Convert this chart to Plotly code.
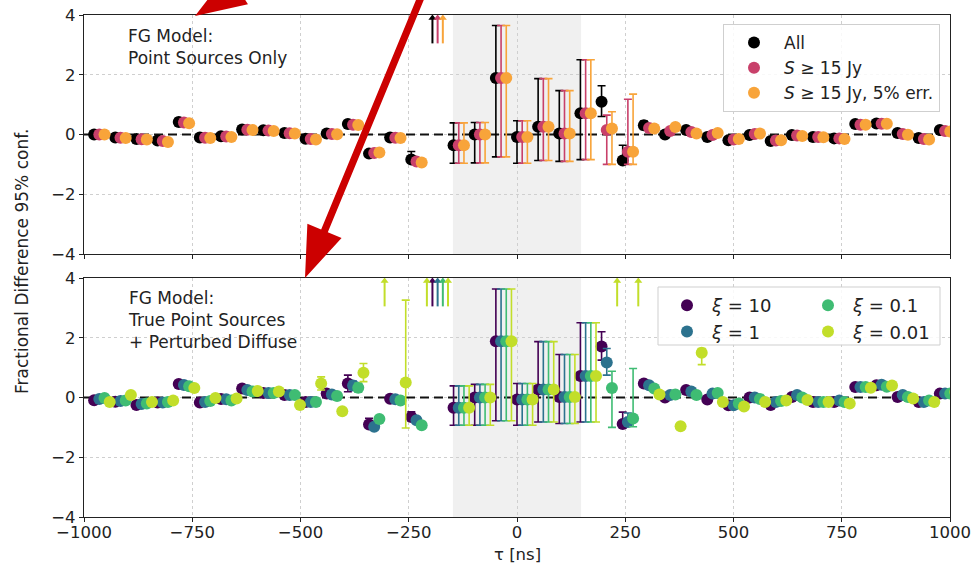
import numpy as np
import plotly.graph_objects as go

# ---------------- data ----------------
DELAY_NS = [-976.6, -927.7, -878.9, -830.1, -781.2, -732.4, -683.6, -634.8, -585.9, -537.1,
            -488.3, -439.5, -390.6, -341.8, -293.0, -244.1, -195.3, -146.5, -97.7, -48.8,
            0.0, 48.8, 97.7, 146.5, 195.3, 244.1, 293.0, 341.8, 390.6, 439.5,
            488.3, 537.1, 585.9, 634.8, 683.6, 732.4, 781.2, 830.1, 878.9, 927.7, 976.6]

# None = value above the plotted range (drawn as an upward arrow)
ALL_VAL = [0.00, -0.10, -0.15, -0.20, 0.42, -0.10, -0.06, 0.17, 0.14, 0.05,
           -0.14, 0.03, 0.35, -0.64, -0.10, -0.84, None, -0.36, 0.00, 1.89,
           -0.08, 0.26, 0.03, 0.71, 1.10, -0.87, 0.31, 0.00, 0.15, -0.08,
           -0.19, -0.02, -0.22, -0.02, -0.08, -0.13, 0.35, 0.37, 0.05, -0.12, 0.15]
ALL_PLUS = [0.08, 0.08, 0.08, 0.08, 0.12, 0.08, 0.08, 0.08, 0.08, 0.08,
            0.08, 0.08, 0.12, 0.08, 0.08, 0.27, 0.00, 0.75, 0.40, 1.76,
            0.54, 1.61, 1.44, 1.79, 0.53, 0.51, 0.14, 0.08, 0.08, 0.08,
            0.08, 0.08, 0.08, 0.08, 0.08, 0.08, 0.08, 0.08, 0.08, 0.08, 0.08]
ALL_MINUS = [0.08, 0.08, 0.08, 0.08, 0.12, 0.08, 0.08, 0.08, 0.08, 0.08,
             0.08, 0.08, 0.12, 0.08, 0.08, 0.08, 0.00, 0.60, 0.95, 2.64,
             0.88, 1.13, 0.93, 1.55, 0.50, 0.10, 0.14, 0.08, 0.08, 0.08,
             0.08, 0.08, 0.08, 0.08, 0.08, 0.08, 0.08, 0.08, 0.08, 0.08, 0.08]

BRIGHT_VAL = [0.00, -0.11, -0.16, -0.22, 0.40, -0.11, -0.07, 0.16, 0.13, 0.04,
              -0.15, 0.02, 0.33, -0.62, -0.11, -0.90, None, -0.36, 0.00, 1.89,
              -0.08, 0.26, 0.03, 0.71, 0.15, -0.58, 0.22, 0.12, 0.08, -0.02,
              -0.17, 0.02, -0.20, -0.03, -0.08, -0.13, 0.33, 0.36, 0.02, -0.15, 0.12]
BRIGHT_PLUS = [0.08, 0.08, 0.08, 0.08, 0.10, 0.08, 0.08, 0.08, 0.08, 0.08,
               0.08, 0.08, 0.10, 0.08, 0.08, 0.10, 0.00, 0.75, 0.40, 1.76,
               0.54, 1.61, 1.44, 1.79, 0.50, 1.76, 0.10, 0.08, 0.08, 0.08,
               0.08, 0.08, 0.08, 0.08, 0.08, 0.08, 0.08, 0.08, 0.08, 0.08, 0.08]
BRIGHT_MINUS = [0.08, 0.08, 0.08, 0.08, 0.10, 0.08, 0.08, 0.08, 0.08, 0.08,
                0.08, 0.08, 0.10, 0.08, 0.08, 0.08, 0.00, 0.60, 0.95, 2.64,
                0.88, 1.13, 0.93, 1.55, 1.15, 0.42, 0.10, 0.08, 0.08, 0.08,
                0.08, 0.08, 0.08, 0.08, 0.08, 0.08, 0.08, 0.08, 0.08, 0.08, 0.08]

BRIGHT5_VAL = [0.00, -0.12, -0.17, -0.25, 0.38, -0.12, -0.08, 0.15, 0.12, 0.03,
               -0.17, 0.01, 0.32, -0.60, -0.12, -0.94, None, -0.36, 0.00, 1.89,
               -0.08, 0.26, 0.03, 0.71, 0.20, -0.58, 0.20, 0.25, 0.03, 0.05,
               -0.15, 0.03, -0.19, -0.05, -0.09, -0.15, 0.33, 0.36, -0.01, -0.17, 0.10]
BRIGHT5_PLUS = [0.08, 0.08, 0.08, 0.08, 0.10, 0.08, 0.08, 0.08, 0.08, 0.08,
                0.08, 0.08, 0.10, 0.08, 0.08, 0.10, 0.00, 0.75, 0.40, 1.76,
                0.54, 1.61, 1.44, 1.79, 0.56, 1.93, 0.10, 0.08, 0.08, 0.08,
                0.08, 0.08, 0.08, 0.08, 0.08, 0.08, 0.08, 0.08, 0.08, 0.08, 0.08]
BRIGHT5_MINUS = [0.08, 0.08, 0.08, 0.08, 0.10, 0.08, 0.08, 0.08, 0.08, 0.08,
                 0.08, 0.08, 0.10, 0.08, 0.08, 0.08, 0.00, 0.60, 0.95, 2.64,
                 0.88, 1.13, 0.93, 1.55, 1.20, 0.42, 0.10, 0.08, 0.08, 0.08,
                 0.08, 0.08, 0.08, 0.08, 0.08, 0.08, 0.08, 0.08, 0.08, 0.08, 0.08]

XI10_VAL = [-0.09, -0.14, -0.25, -0.17, 0.45, -0.17, -0.05, 0.30, 0.15, 0.08,
            -0.15, 0.13, 0.47, -0.90, -0.04, -0.65, None, -0.34, 0.00, 1.88,
            -0.07, 0.27, 0.02, 0.72, 1.71, -0.89, 0.47, 0.00, 0.25, -0.07,
            -0.26, 0.00, -0.25, 0.02, -0.15, -0.15, 0.35, 0.41, 0.02, -0.15, 0.13]
XI10_PLUS = [0.08, 0.08, 0.08, 0.08, 0.10, 0.08, 0.08, 0.08, 0.08, 0.08,
             0.08, 0.12, 0.28, 0.20, 0.08, 0.17, 0.00, 0.73, 0.44, 1.75,
             0.54, 1.60, 1.42, 1.78, 0.49, 0.40, 0.12, 0.08, 0.08, 0.08,
             0.08, 0.08, 0.08, 0.08, 0.08, 0.08, 0.08, 0.08, 0.08, 0.08, 0.08]
XI10_MINUS = [0.08, 0.08, 0.08, 0.08, 0.10, 0.08, 0.08, 0.08, 0.08, 0.08,
              0.08, 0.12, 0.28, 0.08, 0.08, 0.08, 0.00, 0.59, 0.93, 2.66,
              0.86, 1.09, 0.89, 1.54, 0.46, 0.08, 0.12, 0.08, 0.08, 0.08,
              0.08, 0.08, 0.08, 0.08, 0.08, 0.08, 0.08, 0.08, 0.08, 0.08, 0.08]

XI1_VAL = [-0.05, -0.12, -0.22, -0.17, 0.42, -0.15, -0.06, 0.25, 0.15, 0.08,
           -0.15, 0.10, 0.40, -0.98, -0.06, -0.76, None, -0.34, 0.00, 1.88,
           -0.07, 0.27, 0.02, 0.72, 1.17, -0.82, 0.41, 0.08, 0.20, 0.13,
           -0.26, 0.00, -0.15, 0.08, -0.15, -0.10, 0.35, 0.43, 0.08, -0.15, 0.13]
XI1_PLUS = [0.08, 0.08, 0.08, 0.08, 0.08, 0.08, 0.08, 0.08, 0.08, 0.08,
            0.08, 0.08, 0.15, 0.08, 0.08, 0.08, 0.00, 0.73, 0.44, 1.75,
            0.54, 1.60, 1.42, 1.78, 0.47, 0.30, 0.08, 0.08, 0.08, 0.08,
            0.08, 0.08, 0.08, 0.08, 0.08, 0.08, 0.08, 0.08, 0.08, 0.08, 0.08]
XI1_MINUS = [0.08, 0.08, 0.08, 0.08, 0.08, 0.08, 0.08, 0.08, 0.08, 0.08,
             0.08, 0.08, 0.15, 0.08, 0.08, 0.08, 0.00, 0.59, 0.93, 2.66,
             0.86, 1.09, 0.89, 1.54, 0.42, 0.10, 0.08, 0.08, 0.08, 0.08,
             0.08, 0.08, 0.08, 0.08, 0.08, 0.08, 0.08, 0.08, 0.08, 0.08, 0.08]

XI01_VAL = [-0.02, -0.10, -0.20, -0.15, 0.38, -0.12, -0.10, 0.20, 0.15, 0.08,
            -0.15, 0.05, 0.33, -0.72, -0.10, -0.93, None, -0.34, 0.00, 1.88,
            -0.07, 0.27, 0.02, 0.72, 0.32, -0.70, 0.30, 0.10, 0.08, 0.15,
            -0.20, -0.05, -0.12, 0.00, -0.15, -0.15, 0.35, 0.36, 0.02, -0.10, 0.13]
XI01_PLUS = [0.08, 0.08, 0.08, 0.08, 0.08, 0.08, 0.08, 0.08, 0.08, 0.08,
             0.08, 0.08, 0.15, 0.08, 0.08, 0.08, 0.00, 0.73, 0.44, 1.75,
             0.54, 1.60, 1.42, 1.78, 0.56, 1.67, 0.08, 0.08, 0.08, 0.08,
             0.08, 0.08, 0.08, 0.08, 0.08, 0.08, 0.08, 0.08, 0.08, 0.08, 0.08]
XI01_MINUS = [0.08, 0.08, 0.08, 0.08, 0.08, 0.08, 0.08, 0.08, 0.08, 0.08,
              0.08, 0.08, 0.15, 0.08, 0.08, 0.08, 0.00, 0.59, 0.93, 2.66,
              0.86, 1.09, 0.89, 1.54, 1.32, 0.28, 0.08, 0.08, 0.08, 0.08,
              0.08, 0.08, 0.08, 0.08, 0.08, 0.08, 0.08, 0.08, 0.08, 0.08, 0.08]

XI001_VAL = [-0.15, 0.08, -0.15, -0.10, 0.32, -0.02, -0.03, 0.22, 0.20, -0.25,
             0.47, -0.46, 0.83, None, 0.50, None, None, -0.34, 0.00, 1.88,
             -0.07, 0.27, 0.02, 0.72, None, None, 0.10, -0.96, 1.50, -0.15,
             -0.30, -0.15, -0.10, -0.08, -0.15, -0.20, 0.33, 0.40, -0.03, -0.15, 0.18]
XI001_PLUS = [0.08, 0.08, 0.08, 0.08, 0.08, 0.08, 0.08, 0.08, 0.08, 0.08,
              0.22, 0.08, 0.31, 0.00, 2.76, 0.00, 0.00, 0.73, 0.44, 1.75,
              0.54, 1.60, 1.42, 1.78, 0.00, 0.00, 0.08, 0.08, 0.14, 0.08,
              0.08, 0.08, 0.08, 0.08, 0.08, 0.08, 0.08, 0.08, 0.08, 0.08, 0.08]
XI001_MINUS = [0.08, 0.08, 0.08, 0.08, 0.08, 0.08, 0.08, 0.08, 0.08, 0.08,
               0.22, 0.08, 0.30, 0.00, 1.52, 0.00, 0.00, 0.59, 0.93, 2.66,
               0.86, 1.09, 0.89, 1.54, 0.00, 0.00, 0.08, 0.08, 0.40, 0.08,
               0.08, 0.08, 0.08, 0.08, 0.08, 0.08, 0.08, 0.08, 0.08, 0.08, 0.08]

TOP_NAMES = ["All", "<i>S</i> ≥ 15 Jy", "<i>S</i> ≥ 15 Jy, 5% err."]
BOTTOM_NAMES = ["<i>ξ</i> = 10", "<i>ξ</i> = 1", "<i>ξ</i> = 0.1", "<i>ξ</i> = 0.01"]
WEDGE_HALF_WIDTH_NS = 148
X_RANGE = [-1000, 1000]
Y_RANGE = [-4, 4]
X_TICKS = [-1000, -750, -500, -250, 0, 250, 500, 750, 1000]
Y_TICKS = [-4, -2, 0, 2, 4]

# ---------------- style ----------------
TOP_COLORS = ["#000000", "#c8406a", "#f8a43a"]
BOTTOM_COLORS = ["#440154", "#2c728e", "#3fbc73", "#c2de2a"]
SERIES_SHIFT_NS = 12.0
ARROW_FROM = 3.05
ARROW_TIP = 3.9
FONT = "DejaVu Sans"
TXT = "#222222"
W, H = 976, 567
ML, MR, MT, MB = 84, 26, 15, 50

top_series = [(ALL_VAL, ALL_PLUS, ALL_MINUS), (BRIGHT_VAL, BRIGHT_PLUS, BRIGHT_MINUS),
              (BRIGHT5_VAL, BRIGHT5_PLUS, BRIGHT5_MINUS)]
bottom_series = [(XI10_VAL, XI10_PLUS, XI10_MINUS), (XI1_VAL, XI1_PLUS, XI1_MINUS),
                 (XI01_VAL, XI01_PLUS, XI01_MINUS), (XI001_VAL, XI001_PLUS, XI001_MINUS)]
for grp in top_series + bottom_series:
    for arr in grp:
        assert len(arr) == len(DELAY_NS)

fig = go.Figure()


def add_panel(series, names, colors, xa, ya, legends):
    # dashed zero reference line (drawn first so markers cover it)
    fig.add_trace(go.Scatter(x=X_RANGE, y=[0, 0], mode="lines", xaxis=xa, yaxis=ya,
                             line=dict(color="#111111", width=2, dash="9px,5px"),
                             showlegend=False, hoverinfo="skip"))
    for i, ((vals, plus, minus), name, col) in enumerate(zip(series, names, colors)):
        shift = i * SERIES_SHIFT_NS
        xs, ys, ep, em, ax_x = [], [], [], [], []
        for d, v, p, m in zip(DELAY_NS, vals, plus, minus):
            if v is None:
                ax_x.append(d + shift)
            else:
                xs.append(d + shift); ys.append(v); ep.append(p); em.append(m)
        fig.add_trace(go.Scatter(
            x=xs, y=ys, mode="markers", name=name, xaxis=xa, yaxis=ya,
            legend=legends[i], showlegend=True,
            marker=dict(size=12, color=col, line=dict(width=0)),
            error_y=dict(type="data", symmetric=False, array=ep, arrayminus=em,
                         color=col, thickness=1.6, width=4),
        ))
        if ax_x:
            lx, ly = [], []
            for x in ax_x:
                lx += [x, x, None]; ly += [ARROW_FROM, ARROW_TIP, None]
            fig.add_trace(go.Scatter(x=lx, y=ly, mode="lines", xaxis=xa, yaxis=ya,
                                     line=dict(color=col, width=2), showlegend=False,
                                     hoverinfo="skip"))
            fig.add_trace(go.Scatter(x=ax_x, y=[ARROW_TIP] * len(ax_x), mode="markers",
                                     xaxis=xa, yaxis=ya, showlegend=False, hoverinfo="skip",
                                     marker=dict(symbol="triangle-up", size=7, color=col,
                                                 line=dict(width=0))))


add_panel(top_series, TOP_NAMES, TOP_COLORS, "x", "y", ["legend"] * 3)
add_panel(bottom_series, BOTTOM_NAMES, BOTTOM_COLORS, "x2", "y2",
          ["legend2", "legend2", "legend3", "legend3"])

plot_w = W - ML - MR
plot_h = H - MT - MB


def px2paper(px, py):
    return (px - ML) / plot_w, (H - MB - py) / plot_h


top_dom = [px2paper(0, 254)[1], 1.0]
bot_dom = [0.0, px2paper(0, 278)[1]]

axis_common = dict(
    showline=True, linecolor="#222222", linewidth=1.3, mirror=True,
    ticks="outside", ticklen=4, tickwidth=1.2, tickcolor="#222222",
    showgrid=True, gridcolor="#cfcfcf", griddash="dot", gridwidth=1,
    zeroline=False, automargin=False, tickfont=dict(family=FONT, size=16.5, color=TXT),
)
xcommon = dict(range=X_RANGE, tickvals=X_TICKS, **axis_common)
ycommon = dict(range=Y_RANGE, tickvals=Y_TICKS, **axis_common)

fig.update_layout(
    width=W, height=H, margin=dict(l=ML, r=MR, t=MT, b=MB, autoexpand=False),
    paper_bgcolor="white", plot_bgcolor="white",
    font=dict(family=FONT, size=17, color=TXT),
    xaxis=dict(domain=[0, 1], anchor="y", showticklabels=False, matches="x2", **xcommon),
    yaxis=dict(domain=top_dom, anchor="x", **ycommon),
    xaxis2=dict(domain=[0, 1], anchor="y2", **xcommon),
    yaxis2=dict(domain=bot_dom, anchor="x2", **ycommon),
    legend=dict(x=px2paper(940, 0)[0], xanchor="right", y=px2paper(0, 24)[1], yanchor="top",
                bgcolor="rgba(255,255,255,0.85)", bordercolor="#cfcfcf", borderwidth=1,
                font=dict(family=FONT, size=17, color=TXT), itemwidth=50,
                tracegroupgap=0),
    legend2=dict(x=px2paper(662, 0)[0], xanchor="left", y=px2paper(0, 287)[1], yanchor="top",
                 bgcolor="rgba(0,0,0,0)", borderwidth=0, itemwidth=40,
                 font=dict(family=FONT, size=18, color=TXT)),
    legend3=dict(x=px2paper(803, 0)[0], xanchor="left", y=px2paper(0, 287)[1], yanchor="top",
                 bgcolor="rgba(0,0,0,0)", borderwidth=0, itemwidth=40,
                 font=dict(family=FONT, size=18, color=TXT)),
    showlegend=True,
)
try:
    fig.update_xaxes(ticklabelstandoff=-4, selector=dict(anchor="y2"))
except Exception:
    pass

shapes = []
for xr, yr in (("x", "y"), ("x2", "y2")):
    shapes.append(dict(type="rect", xref=xr, yref=yr + " domain", x0=-WEDGE_HALF_WIDTH_NS,
                       x1=WEDGE_HALF_WIDTH_NS, y0=0, y1=1, fillcolor="#f0f0f0",
                       line=dict(width=0), layer="below"))

# legend frame for the two-column lower legend
bx0, by0 = px2paper(658, 345)
bx1, by1 = px2paper(940, 287)
shapes.append(dict(type="rect", xref="paper", yref="paper", x0=bx0, y0=by0, x1=bx1, y1=by1,
                   fillcolor="rgba(255,255,255,0.85)", line=dict(color="#cfcfcf", width=1),
                   layer="above"))


# red pointer arrows overlaid on the figure
def arrow_path(tip, toward, head_len=51, head_half=18.5, shaft_half=3.6, length=420):
    t = np.array(tip, float)
    u = np.array(toward, float) - t
    u /= np.linalg.norm(u)
    n = np.array([-u[1], u[0]])
    b = t + head_len * u
    e = t + length * u
    pts = [t, b + head_half * n, b + shaft_half * n, e + shaft_half * n,
           e - shaft_half * n, b - shaft_half * n, b - head_half * n]
    segs = []
    for j, p in enumerate(pts):
        xp, yp = px2paper(p[0], p[1])
        segs.append(("M" if j == 0 else "L") + f"{xp:.5f},{yp:.5f}")
    return " ".join(segs) + " Z"


for tip, toward in (((195, 16), (280, -38)), ((305, 278), (424, -10))):
    shapes.append(dict(type="path", xref="paper", yref="paper", path=arrow_path(tip, toward),
                       fillcolor="#cc0000", line=dict(width=0), layer="above"))

fig.update_layout(shapes=shapes)

annotations = [
    dict(text="FG Model:<br>Point Sources Only", xref="paper", yref="paper",
         x=px2paper(126, 0)[0], y=px2paper(0, 24)[1], xanchor="left", yanchor="top",
         align="left", showarrow=False, font=dict(family=FONT, size=17, color=TXT)),
    dict(text="FG Model:<br>True Point Sources<br>+ Perturbed Diffuse", xref="paper", yref="paper",
         x=px2paper(126, 0)[0], y=px2paper(0, 286)[1], xanchor="left", yanchor="top",
         align="left", showarrow=False, font=dict(family=FONT, size=17, color=TXT)),
    dict(text="Fractional Difference 95% conf.", xref="paper", yref="paper",
         x=px2paper(22, 0)[0], y=px2paper(0, 262)[1], xanchor="center", yanchor="middle",
         textangle=-90, showarrow=False, font=dict(family=FONT, size=17, color=TXT)),
    dict(text="τ [ns]", xref="paper", yref="paper", x=0.5, y=px2paper(0, 554)[1],
         xanchor="center", yanchor="middle", showarrow=False,
         font=dict(family=FONT, size=16.5, color=TXT)),
]
fig.update_layout(annotations=annotations)

fig.write_html("out.html")
